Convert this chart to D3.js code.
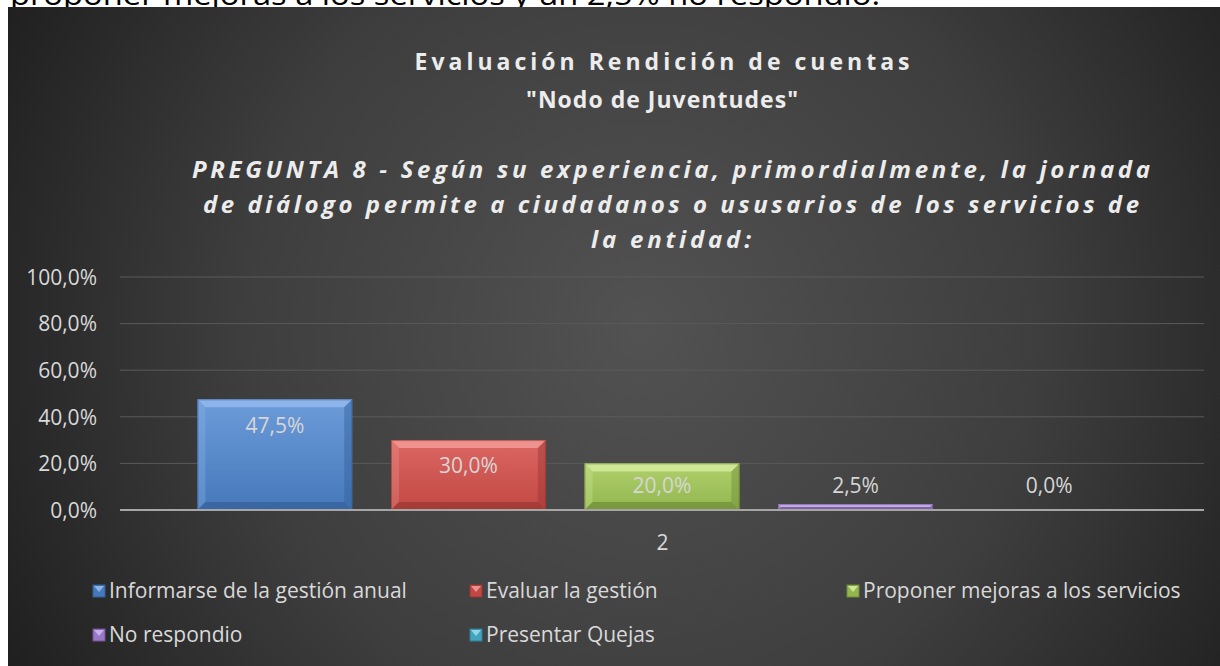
<!DOCTYPE html>
<html>
<head>
<meta charset="utf-8">
<script src="https://cdnjs.cloudflare.com/ajax/libs/d3/7.8.5/d3.min.js"></script>
<style>
  body { margin: 0; background: #fff; }
  svg { display: block; font-family: "Open Sans", sans-serif; }
</style>
</head>
<body>
<svg id="svg" width="1220" height="666"></svg>
<script>
// Chart values
const categories = ['2'];
const series = [
  'Informarse de la gestión anual',
  'Evaluar la gestión',
  'Proponer mejoras a los servicios',
  'No respondio',
  'Presentar Quejas'
];
const values = [0.475, 0.30, 0.20, 0.025, 0.0];
const yTicks = [0, 0.2, 0.4, 0.6, 0.8, 1.0];
const titleLines = ['Evaluación Rendición de cuentas', '"Nodo de Juventudes"'];
const subtitleLines = [
  'PREGUNTA 8 - Según su experiencia, primordialmente, la jornada',
  'de diálogo permite a ciudadanos o ususarios de los servicios de',
  'la entidad:'
];
const topText = 'proponer mejoras a los servicios y un 2,5% no respondió.';

(function() {

const svg = d3.select('#svg');
const defs = svg.append('defs');

// colours: [face top, face bottom, light bevel, dark bevel]
const palette = [
  ['#6c9bd9', '#4679bb', '#93b9ee', '#34609a'],
  ['#dc6763', '#c24843', '#f09a96', '#9a3532'],
  ['#b0d06c', '#93b64f', '#d3eb9c', '#6f8c37'],
  ['#a98ad3', '#9a78c8', '#cdb5ee', '#6f5594'],
  ['#5cbdd6', '#44a3bd', '#99dcec', '#2f8096']
];

const locale = d3.formatLocale({decimal: ',', thousands: '.', grouping: [3], currency: ['', '€']});
const pct = locale.format('.1%');

// Chart background
const bg = defs.append('radialGradient')
  .attr('id', 'bg')
  .attr('gradientUnits', 'userSpaceOnUse')
  .attr('cx', 640).attr('cy', 330).attr('r', 720);
bg.append('stop').attr('offset', '0').attr('stop-color', '#525252');
bg.append('stop').attr('offset', '0.55').attr('stop-color', '#3e3e3e');
bg.append('stop').attr('offset', '1').attr('stop-color', '#1f1f1f');

// cropped text from the page above the chart
svg.append('text')
  .attr('x', 10).attr('y', 5)
  .attr('font-size', 29)
  .attr('fill', '#000')
  .attr('textLength', 870)
  .attr('lengthAdjust', 'spacingAndGlyphs')
  .text(topText);

svg.append('rect')
  .attr('x', 8).attr('y', 7)
  .attr('width', 1212).attr('height', 659)
  .attr('fill', 'url(#bg)');

// Titles
const titleWidths = [495, 272];
svg.selectAll('text.title')
  .data(titleLines).enter().append('text')
  .attr('class', 'title')
  .attr('x', 662)
  .attr('y', (d, i) => 70 + i * 38)
  .attr('text-anchor', 'middle')
  .attr('font-size', 23)
  .attr('font-weight', 'bold')
  .attr('fill', '#ececec')
  .attr('textLength', (d, i) => titleWidths[i])
  .attr('lengthAdjust', 'spacing')
  .text(d => d);

const subWidths = [958, 936, 160];
svg.selectAll('text.subtitle')
  .data(subtitleLines).enter().append('text')
  .attr('class', 'subtitle')
  .attr('x', 671)
  .attr('y', (d, i) => 178 + i * 35)
  .attr('text-anchor', 'middle')
  .attr('font-size', 24)
  .attr('font-weight', 'bold')
  .attr('font-style', 'italic')
  .attr('fill', '#ececec')
  .attr('textLength', (d, i) => subWidths[i])
  .attr('lengthAdjust', 'spacing')
  .text(d => d);

// Scales
const plot = {left: 120, right: 1204, top: 277, bottom: 510};
const y = d3.scaleLinear().domain([0, 1]).range([plot.bottom, plot.top]);
const x0 = d3.scaleBand().domain(categories).range([plot.left, plot.right]);
const x1 = d3.scaleBand().domain(series)
  .range([0, x0.bandwidth()])
  .paddingInner(0.2).paddingOuter(0.4);

// Gridlines
svg.append('g')
  .selectAll('line')
  .data(yTicks.slice(1)).enter().append('line')
  .attr('x1', plot.left).attr('x2', plot.right)
  .attr('y1', d => y(d)).attr('y2', d => y(d))
  .attr('stroke', '#5a5a5a')
  .attr('stroke-width', 1);

// Y axis labels
const yAxis = svg.append('g')
  .attr('transform', `translate(${plot.left - 23},0)`)
  .call(d3.axisLeft(y).tickValues(yTicks).tickFormat(pct).tickSize(0).tickPadding(0));
yAxis.select('.domain').remove();
yAxis.selectAll('text')
  .attr('font-family', '"Open Sans", sans-serif')
  .attr('font-size', 21)
  .attr('fill', '#d9d9d9')
  .attr('dy', '0.35em');

// Bars with a bevel
series.forEach((s, i) => {
  const g = defs.append('linearGradient')
    .attr('id', 'face' + i)
    .attr('x1', 0).attr('y1', 0).attr('x2', 0).attr('y2', 1);
  g.append('stop').attr('offset', '0').attr('stop-color', palette[i][0]);
  g.append('stop').attr('offset', '1').attr('stop-color', palette[i][1]);
});

const bars = svg.append('g')
  .selectAll('g.bar')
  .data(series.map((s, i) => ({s: s, v: values[i], i: i})))
  .enter().append('g')
  .attr('class', 'bar')
  .attr('transform', d => `translate(${x0(categories[0]) + x1(d.s)},0)`);

bars.each(function(d) {
  if (d.v <= 0) return;
  const g = d3.select(this);
  const w = x1.bandwidth();
  const top = y(d.v);
  const h = y(0) - top;
  const b = Math.min(8, h / 2);
  const c = palette[d.i];
  g.append('rect')
    .attr('x', 0).attr('y', top).attr('width', w).attr('height', h)
    .attr('fill', `url(#face${d.i})`);
  // top bevel
  g.append('polygon')
    .attr('points', [[0, top], [w, top], [w - b, top + b], [b, top + b]].join(' '))
    .attr('fill', c[2]).attr('opacity', 0.85);
  // left bevel
  g.append('polygon')
    .attr('points', [[0, top], [b, top + b], [b, top + h - b], [0, top + h]].join(' '))
    .attr('fill', c[2]).attr('opacity', 0.3);
  // right bevel
  g.append('polygon')
    .attr('points', [[w, top], [w, top + h], [w - b, top + h - b], [w - b, top + b]].join(' '))
    .attr('fill', c[3]).attr('opacity', 0.45);
  // bottom bevel
  g.append('polygon')
    .attr('points', [[0, top + h], [b, top + h - b], [w - b, top + h - b], [w, top + h]].join(' '))
    .attr('fill', c[3]).attr('opacity', 0.7);
  g.append('rect')
    .attr('x', 0.5).attr('y', top + 0.5).attr('width', w - 1).attr('height', Math.max(0, h - 1))
    .attr('fill', 'none')
    .attr('stroke', c[3]).attr('stroke-opacity', 0.6);
});

// Data labels
bars.append('text')
  .attr('x', x1.bandwidth() / 2)
  .attr('y', d => Math.min(y(d.v) + 26, y(0) - 24))
  .attr('dy', '0.35em')
  .attr('text-anchor', 'middle')
  .attr('font-size', 21)
  .attr('fill', '#d6d6d6')
  .text(d => pct(d.v));

// X axis line + category label
svg.append('line')
  .attr('x1', plot.left).attr('x2', plot.right)
  .attr('y1', y(0)).attr('y2', y(0))
  .attr('stroke', '#a6a6a6')
  .attr('stroke-width', 2);

svg.append('g')
  .selectAll('text')
  .data(categories).enter().append('text')
  .attr('x', d => x0(d) + x0.bandwidth() / 2 + 0.5)
  .attr('y', 543)
  .attr('dy', '0.35em')
  .attr('text-anchor', 'middle')
  .attr('font-size', 21)
  .attr('fill', '#d9d9d9')
  .text(d => d);

// Legend
const legendPos = [[93, 591], [470, 591], [847, 591], [93, 635], [470, 635]];
const legend = svg.append('g')
  .selectAll('g')
  .data(series).enter().append('g')
  .attr('transform', (d, i) => `translate(${legendPos[i][0]},${legendPos[i][1]})`);
legend.append('rect')
  .attr('x', 0).attr('y', -6).attr('width', 12).attr('height', 12)
  .attr('fill', (d, i) => palette[i][1])
  .attr('stroke', (d, i) => palette[i][3]).attr('stroke-width', 1);
legend.append('polygon')
  .attr('points', '1,-5 11,-5 6,1')
  .attr('fill', (d, i) => palette[i][2]).attr('opacity', 0.9);
legend.append('text')
  .attr('x', 16)
  .attr('dy', '0.35em')
  .attr('font-size', 21)
  .attr('fill', '#d9d9d9')
  .text(d => d);

})();
</script>
</body>
</html>
